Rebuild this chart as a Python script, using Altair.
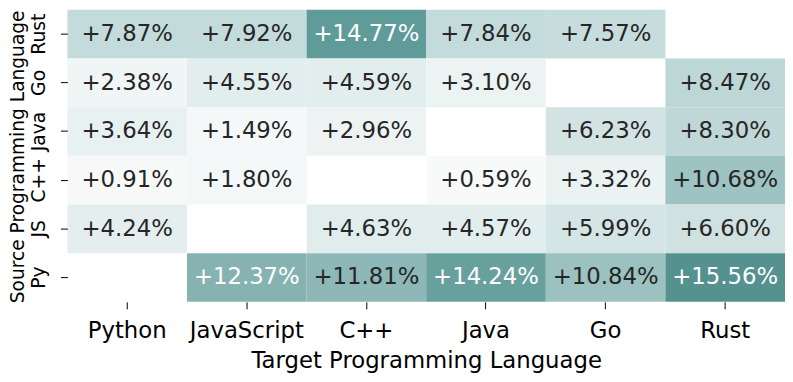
import altair as alt
import pandas as pd

targets = ["Python", "JavaScript", "C++", "Java", "Go", "Rust"]
sources = ["Rust", "Go", "Java", "C++", "JS", "Py"]
values = [
    [7.87, 7.92, 14.77, 7.84, 7.57, None],
    [2.38, 4.55, 4.59, 3.10, None, 8.47],
    [3.64, 1.49, 2.96, None, 6.23, 8.30],
    [0.91, 1.80, None, 0.59, 3.32, 10.68],
    [4.24, None, 4.63, 4.57, 5.99, 6.60],
    [None, 12.37, 11.81, 14.24, 10.84, 15.56],
]

rows = []
for s, vals in zip(sources, values):
    for t, v in zip(targets, vals):
        if v is not None:
            rows.append({"source": s, "target": t, "value": v, "label": f"+{v:.2f}%"})
df = pd.DataFrame(rows)

color_domain = [0.59, 1.49, 3.10, 4.55, 6.23, 7.87, 8.47, 10.68, 12.37, 14.77, 15.56]
color_range = ["#f8fafa", "#f4f8f8", "#ecf3f3", "#e2eded", "#d3e3e3", "#c4dbdb",
               "#bdd6d6", "#9dc3c2", "#86b3b1", "#5f9b99", "#55928f"]

x_enc = alt.X("target:N", sort=targets, scale=alt.Scale(paddingInner=0, paddingOuter=0),
              axis=alt.Axis(title="Target Programming Language", labelAngle=0,
                            labelFontSize=23, titleFontSize=23, tickSize=7,
                            labelPadding=11, domain=False, titleY=66,
                            titleBaseline="alphabetic", labelColor="#000000",
                            titleColor="#000000", tickColor="#000000",
                            labelFont="DejaVu Sans", titleFont="DejaVu Sans",
                            titleFontWeight="normal"))
y_enc = alt.Y("source:N", sort=sources, scale=alt.Scale(paddingInner=0, paddingOuter=0),
              axis=alt.Axis(title="Source Programming Language", labelAngle=270,
                            labelAlign="center", labelBaseline="alphabetic",
                            labelFontSize=19, titleFontSize=18.8, tickSize=7,
                            labelPadding=16, domain=False, titleAngle=270,
                            titleX=-44, titleY=148, titleAlign="center",
                            titleBaseline="alphabetic", labelColor="#000000",
                            titleColor="#000000", tickColor="#000000",
                            labelFont="DejaVu Sans", titleFont="DejaVu Sans",
                            titleFontWeight="normal"))

base = alt.Chart(df).encode(x=x_enc, y=y_enc)

rects = base.mark_rect().encode(
    color=alt.Color("value:Q", scale=alt.Scale(domain=color_domain, range=color_range),
                    legend=None)
)

texts = base.mark_text(font="DejaVu Sans", fontSize=23).encode(
    text="label:N",
    color=alt.condition(alt.datum.value > 12, alt.value("#ffffff"), alt.value("#262626")),
)

chart = (rects + texts).properties(
    width=725, height=295,
    autosize=alt.AutoSizeParams(type="none"),
    padding={"left": 60, "top": 0, "right": 0, "bottom": 71},
).configure_view(stroke=None)

chart.save("out.html", embed_options={"renderer": "svg", "actions": False})
